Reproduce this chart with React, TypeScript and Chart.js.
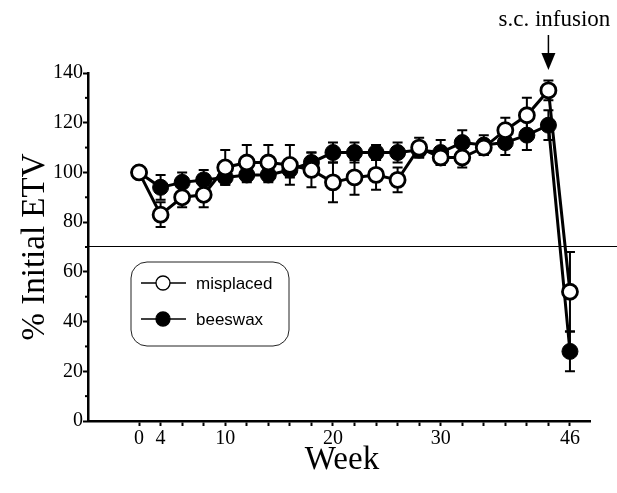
import React, { useEffect, useRef } from 'react';
import { Chart, registerables } from 'chart.js';
Chart.register(...registerables);

const weeks = [0, 4, 6, 8, 10, 12, 14, 16, 18, 20, 22, 24, 26, 28, 30, 32, 34, 36, 38, 40, 46];
const labelledWeeks = [0, 4, 10, 20, 30, 46];
const misplaced = [100, 83, 90, 91, 102, 104, 104, 103, 101, 96, 98, 99, 97, 110, 106, 106, 110, 117, 123, 133, 52];
const misplacedErr = [0, 5, 4, 5, 7, 7, 7, 8, 7, 8, 7, 6, 5, 4, 3, 4, 3, 5, 7, 4, 16];
const beeswax = [100, 94, 96, 97, 98, 99, 99, 101, 104, 108, 108, 108, 108, 109, 108, 112, 111, 112, 115, 119, 28];
const beeswaxErr = [0, 5, 4, 4, 3, 3, 3, 3, 4, 4, 4, 3, 4, 3, 5, 5, 4, 5, 6, 6, 8];
const yTicks = [0, 20, 40, 60, 80, 100, 120, 140];
const yMinorTicks = [10, 30, 50, 70, 90, 110, 130];
const referenceLine = 70.5;
const infusionWeekIndex = 19;
const seriesNames = ['misplaced', 'beeswax'];

const SERIF = '"Liberation Serif", "Times New Roman", serif';
const SANS = '"Liberation Sans", Arial, sans-serif';

const decorPlugin = {
  id: 'decor',
  beforeDatasetsDraw(chart: any) {
    const ctx = chart.ctx;
    const xs = chart.scales.x;
    const ys = chart.scales.y;
    ctx.save();
    ctx.strokeStyle = '#000';
    ctx.lineWidth = 1.2;
    const ry = Math.round(ys.getPixelForValue(referenceLine)) + 0.5;
    ctx.beginPath();
    ctx.moveTo(chart.chartArea.left, ry);
    ctx.lineTo(chart.width, ry);
    ctx.stroke();
    const drawErr = (vals: number[], errs: number[]) => {
      ctx.lineWidth = 2;
      vals.forEach((v, i) => {
        const e = errs[i];
        if (!e) return;
        const x = xs.getPixelForValue(i);
        const y1 = ys.getPixelForValue(v - e);
        const y2 = ys.getPixelForValue(v + e);
        ctx.beginPath();
        ctx.moveTo(x, y1);
        ctx.lineTo(x, y2);
        ctx.moveTo(x - 5, y1);
        ctx.lineTo(x + 5, y1);
        ctx.moveTo(x - 5, y2);
        ctx.lineTo(x + 5, y2);
        ctx.stroke();
      });
    };
    drawErr(beeswax, beeswaxErr);
    drawErr(misplaced, misplacedErr);
    ctx.restore();
  },
  afterDraw(chart: any) {
    const ctx = chart.ctx;
    const xs = chart.scales.x;
    const ys = chart.scales.y;
    const area = chart.chartArea;
    ctx.save();
    ctx.strokeStyle = '#000';
    ctx.lineWidth = 2;
    yMinorTicks.forEach((v) => {
      const y = ys.getPixelForValue(v);
      ctx.beginPath();
      ctx.moveTo(area.left - 3, y);
      ctx.lineTo(area.left, y);
      ctx.stroke();
    });
    ctx.fillStyle = '#000';
    ctx.font = `33px ${SERIF}`;
    ctx.textAlign = 'center';
    ctx.textBaseline = 'middle';
    ctx.fillText('Week', 342, 460);
    ctx.save();
    ctx.translate(35, (area.top + area.bottom) / 2);
    ctx.rotate(-Math.PI / 2);
    ctx.fillText('% Initial ETV', 0, 0);
    ctx.restore();
    const ax = xs.getPixelForValue(infusionWeekIndex);
    ctx.font = `23px ${SERIF}`;
    ctx.fillText('s.c. infusion', ax + 6, 20);
    ctx.lineWidth = 1.5;
    ctx.beginPath();
    ctx.moveTo(ax, 35);
    ctx.lineTo(ax, 55);
    ctx.stroke();
    ctx.beginPath();
    ctx.moveTo(ax - 7, 53);
    ctx.lineTo(ax + 7, 53);
    ctx.lineTo(ax, 70);
    ctx.closePath();
    ctx.fill();
    const bx = 131, by = 262, bw = 158, bh = 84, r = 16;
    ctx.lineWidth = 1;
    ctx.strokeStyle = '#222';
    ctx.beginPath();
    ctx.moveTo(bx + r, by);
    ctx.arcTo(bx + bw, by, bx + bw, by + bh, r);
    ctx.arcTo(bx + bw, by + bh, bx, by + bh, r);
    ctx.arcTo(bx, by + bh, bx, by, r);
    ctx.arcTo(bx, by, bx + bw, by, r);
    ctx.closePath();
    ctx.stroke();
    const items = [
      { name: seriesNames[0], y: 283, fill: '#fff' },
      { name: seriesNames[1], y: 319, fill: '#000' },
    ];
    items.forEach((it) => {
      ctx.strokeStyle = '#000';
      ctx.lineWidth = 1.3;
      ctx.beginPath();
      ctx.moveTo(141, it.y);
      ctx.lineTo(186, it.y);
      ctx.stroke();
      ctx.beginPath();
      ctx.arc(163, it.y, 7, 0, Math.PI * 2);
      ctx.fillStyle = it.fill;
      ctx.fill();
      ctx.lineWidth = 1.3;
      ctx.stroke();
      ctx.fillStyle = '#000';
      ctx.font = `17px ${SANS}`;
      ctx.textAlign = 'left';
      ctx.fillText(it.name, 196, it.y + 1);
    });
    ctx.restore();
  },
};

export default function App() {
  const ref = useRef<HTMLCanvasElement>(null);
  useEffect(() => {
    if (!ref.current) return;
    const chart = new Chart(ref.current, {
      type: 'line',
      data: {
        datasets: [
          {
            label: seriesNames[0],
            data: misplaced.map((v, i) => ({ x: i, y: v })),
            borderColor: '#000',
            borderWidth: 3,
            pointRadius: 7.5,
            pointBorderWidth: 2.8,
            pointBackgroundColor: '#fff',
            pointBorderColor: '#000',
            tension: 0,
          },
          {
            label: seriesNames[1],
            data: beeswax.map((v, i) => ({ x: i, y: v })),
            borderColor: '#000',
            borderWidth: 3,
            pointRadius: 8,
            pointBorderWidth: 1,
            pointBackgroundColor: '#000',
            pointBorderColor: '#000',
            tension: 0,
          },
        ],
      },
      options: {
        responsive: false,
        animation: false,
        layout: { padding: { top: 73, right: 27, left: 0, bottom: 0 } },
        plugins: { legend: { display: false }, tooltip: { enabled: false } },
        scales: {
          x: {
            type: 'linear',
            min: -2.37,
            max: 20.93,
            afterBuildTicks: (s: any) => {
              s.ticks = weeks.map((_, i) => ({ value: i }));
            },
            afterFit: (s: any) => {
              s.height = 72;
            },
            ticks: {
              autoSkip: false,
              maxRotation: 0,
              color: '#000',
              padding: 1,
              font: { family: SERIF, size: 20 },
              callback: (v: any) => {
                const w = weeks[v as number];
                return labelledWeeks.includes(w) ? String(w) : '';
              },
            },
            grid: { drawOnChartArea: false, tickLength: 5, tickWidth: 2, tickColor: '#000' },
            border: { color: '#000', width: 2.5 },
          },
          y: {
            min: 0,
            max: 140,
            afterBuildTicks: (s: any) => {
              s.ticks = yTicks.map((v) => ({ value: v }));
            },
            afterFit: (s: any) => {
              s.width = 88;
            },
            ticks: {
              color: '#000',
              padding: 0,
              font: { family: SERIF, size: 20 },
            },
            grid: { drawOnChartArea: false, tickLength: 5, tickWidth: 2, tickColor: '#000' },
            border: { color: '#000', width: 2.5 },
          },
        },
      },
      plugins: [decorPlugin],
    });
    return () => chart.destroy();
  }, []);
  return (
    <div style={{ position: 'fixed', left: 0, top: 0, width: 617, height: 493, background: '#fff' }}>
      <canvas ref={ref} width={617} height={493} style={{ width: 617, height: 493 }} />
    </div>
  );
}
